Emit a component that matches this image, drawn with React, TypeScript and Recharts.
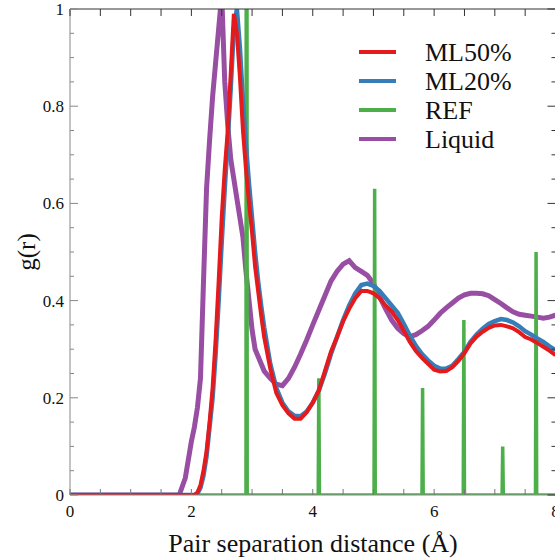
import { LineChart, Line, XAxis, YAxis, Legend } from 'recharts';

const FONT = '"Liberation Serif", "Times New Roman", serif';

// radial grid (Å) shared by the three g(r) curves
const R_GRID = [
  0, 1.5, 1.8, 1.9, 2.0, 2.05, 2.1, 2.15, 2.2, 2.25, 2.3, 2.35, 2.4, 2.45, 2.5, 2.55, 2.6, 2.65, 2.7, 2.75,
  2.8, 2.85, 2.9, 2.95, 3.0, 3.05, 3.1, 3.15, 3.2, 3.3, 3.4, 3.5, 3.6, 3.7, 3.8, 3.9, 4.0, 4.1, 4.2, 4.3,
  4.4, 4.5, 4.6, 4.7, 4.8, 4.9, 5.0, 5.1, 5.2, 5.3, 5.4, 5.5, 5.6, 5.7, 5.8, 5.9, 6.0, 6.1, 6.2, 6.3,
  6.4, 6.5, 6.6, 6.7, 6.8, 6.9, 7.0, 7.1, 7.2, 7.3, 7.4, 7.5, 7.6, 7.7, 7.8, 7.9, 8.0,
];

const G_ML50 = [
  0, 0, 0, 0, 0, 0, 0.005, 0.02, 0.05, 0.09, 0.15, 0.22, 0.32, 0.44, 0.57, 0.67, 0.75, 0.87, 0.99, 0.95,
  0.86, 0.75, 0.67, 0.6, 0.54, 0.47, 0.42, 0.37, 0.325, 0.26, 0.21, 0.185, 0.168, 0.157, 0.157, 0.17, 0.19, 0.215, 0.255, 0.295,
  0.325, 0.357, 0.383, 0.405, 0.42, 0.42, 0.415, 0.405, 0.39, 0.378, 0.36, 0.338, 0.315, 0.296, 0.282, 0.27, 0.258, 0.254, 0.255, 0.263,
  0.276, 0.292, 0.312, 0.326, 0.336, 0.344, 0.349, 0.35, 0.347, 0.343, 0.335, 0.325, 0.32, 0.313, 0.305, 0.297, 0.288,
];

const G_ML20 = [
  0, 0, 0, 0, 0, 0, 0.003, 0.015, 0.04, 0.08, 0.14, 0.2, 0.29, 0.4, 0.52, 0.63, 0.73, 0.84, 0.96, 1.0,
  0.92, 0.81, 0.72, 0.64, 0.57, 0.5, 0.44, 0.39, 0.345, 0.27, 0.22, 0.19, 0.172, 0.163, 0.162, 0.172, 0.19, 0.215, 0.25, 0.29,
  0.325, 0.36, 0.39, 0.415, 0.432, 0.435, 0.43, 0.42, 0.405, 0.39, 0.375, 0.352, 0.328, 0.307, 0.29, 0.277, 0.266, 0.26, 0.26, 0.266,
  0.28, 0.295, 0.315, 0.33, 0.342, 0.352, 0.358, 0.362, 0.36, 0.355, 0.347, 0.337, 0.33, 0.322, 0.315, 0.306, 0.298,
];

const G_LIQUID = [
  0, 0, 0, 0.035, 0.11, 0.14, 0.18, 0.24, 0.44, 0.63, 0.73, 0.82, 0.89, 0.96, 1.03, 0.85, 0.76, 0.69, 0.65, 0.61,
  0.57, 0.53, 0.46, 0.4, 0.34, 0.3, 0.285, 0.27, 0.255, 0.24, 0.228, 0.225, 0.24, 0.263, 0.29, 0.319, 0.35, 0.38, 0.41, 0.44,
  0.46, 0.475, 0.482, 0.468, 0.46, 0.452, 0.435, 0.408, 0.383, 0.36, 0.343, 0.332, 0.326, 0.33, 0.338, 0.347, 0.36, 0.374, 0.385, 0.395,
  0.405, 0.412, 0.415, 0.415, 0.414, 0.41, 0.402, 0.394, 0.385, 0.377, 0.372, 0.37, 0.368, 0.366, 0.364, 0.366, 0.37,
];

// reference crystal: sharp peaks
const REF_PEAK_R = [2.91, 4.1, 5.02, 5.81, 6.49, 7.13, 7.68];
const REF_PEAK_G = [3.0, 0.24, 0.63, 0.22, 0.36, 0.1, 0.5];

const X_TICKS = [0, 0.5, 1, 1.5, 2, 2.5, 3, 3.5, 4, 4.5, 5, 5.5, 6, 6.5, 7, 7.5, 8];
const Y_TICKS = [
  0, 0.05, 0.1, 0.15, 0.2, 0.25, 0.3, 0.35, 0.4, 0.45, 0.5, 0.55, 0.6, 0.65, 0.7, 0.75, 0.8, 0.85, 0.9, 0.95, 1,
];

const SERIES = [
  { name: 'ML50%', color: '#e41a1c' },
  { name: 'ML20%', color: '#377eb8' },
  { name: 'REF', color: '#4daf4a' },
  { name: 'Liquid', color: '#984ea3' },
];

const toPoints = (ys: number[]) => R_GRID.map((r, i) => ({ r, g: ys[i] }));

const ml50Data = toPoints(G_ML50);
const ml20Data = toPoints(G_ML20);
const liquidData = toPoints(G_LIQUID);

// each peak drawn as a narrow spike rising from the zero baseline
const refData = (() => {
  const pts: { r: number; g: number }[] = [{ r: 0, g: 0 }];
  REF_PEAK_R.forEach((r, i) => {
    pts.push({ r: r - 0.01, g: 0 }, { r, g: REF_PEAK_G[i] }, { r: r + 0.01, g: 0 });
  });
  pts.push({ r: 8, g: 0 });
  return pts;
})();

const isMajorX = (v: number) => Math.abs(v / 2 - Math.round(v / 2)) < 1e-6;
const isMajorY = (v: number) => Math.abs(v * 5 - Math.round(v * 5)) < 1e-6;
const fmtY = (v: number) => (v === 0 ? '0' : v === 1 ? '1' : v.toFixed(1));

const BottomTick = ({ x, y, payload }: any) => (
  <g>
    <line x1={x} y1={y} x2={x} y2={y - 6} stroke="#777" />
    {isMajorX(payload.value) && (
      <text x={x} y={y + 22} textAnchor="middle" fontSize={17} fontFamily={FONT} fill="#111">
        {payload.value}
      </text>
    )}
  </g>
);

const TopTick = ({ x, y }: any) => <line x1={x} y1={y} x2={x} y2={y + 7} stroke="#333" />;

const LeftTick = ({ x, y, payload }: any) => {
  const major = isMajorY(payload.value);
  return (
    <g>
      <line x1={x} y1={y} x2={x + (major ? 8 : 4)} y2={y} stroke="#888" />
      {major && (
        <text x={x - 6} y={y + 6} textAnchor="end" fontSize={17} fontFamily={FONT} fill="#111">
          {fmtY(payload.value)}
        </text>
      )}
    </g>
  );
};

const RightTick = ({ x, y, payload }: any) => (
  <line x1={x} y1={y} x2={x - (isMajorY(payload.value) ? 8 : 4)} y2={y} stroke="#333" />
);

const LegendBox = () => (
  <svg width={200} height={130}>
    {SERIES.map((s, i) => (
      <g key={s.name}>
        <line x1={4} x2={41} y1={17 + i * 29} y2={17 + i * 29} stroke={s.color} strokeWidth={4} />
        <text x={70} y={26 + i * 29} fontSize={26} fontFamily={FONT} fill="#111">
          {s.name}
        </text>
      </g>
    ))}
  </svg>
);

export default function App() {
  return (
    <div style={{ position: 'absolute', left: 0, top: 0, width: 555, height: 560, overflow: 'hidden', background: '#fff' }}>
      <LineChart width={560} height={560} margin={{ top: 8, right: 3.5, bottom: 64, left: 69 }}>
        <XAxis
          type="number"
          dataKey="r"
          domain={[0, 8]}
          ticks={X_TICKS}
          interval={0}
          allowDataOverflow
          height={1}
          tickSize={0}
          tickMargin={0}
          axisLine={{ stroke: '#888' }}
          tickLine={false}
          tick={<BottomTick />}
        />
        <XAxis
          xAxisId="top"
          orientation="top"
          type="number"
          dataKey="r"
          domain={[0, 8]}
          ticks={X_TICKS}
          interval={0}
          allowDataOverflow
          height={1}
          tickSize={0}
          tickMargin={0}
          axisLine={{ stroke: '#333' }}
          tickLine={false}
          tick={<TopTick />}
        />
        <YAxis
          type="number"
          domain={[0, 1]}
          ticks={Y_TICKS}
          interval={0}
          allowDataOverflow
          width={1}
          tickSize={0}
          tickMargin={0}
          axisLine={{ stroke: '#888' }}
          tickLine={false}
          tick={<LeftTick />}
        />
        <YAxis
          yAxisId="right"
          orientation="right"
          type="number"
          domain={[0, 1]}
          ticks={Y_TICKS}
          interval={0}
          allowDataOverflow
          width={1}
          tickSize={0}
          tickMargin={0}
          axisLine={{ stroke: '#333' }}
          tickLine={false}
          tick={<RightTick />}
        />
        <Line data={liquidData} dataKey="g" name="Liquid" type="linear" stroke="#984ea3" strokeWidth={5} dot={false} isAnimationActive={false} />
        <Line data={refData} dataKey="g" name="REF" type="linear" stroke="#4daf4a" strokeWidth={3.5} dot={false} isAnimationActive={false} />
        <Line data={ml20Data} dataKey="g" name="ML20%" type="linear" stroke="#377eb8" strokeWidth={4.5} dot={false} isAnimationActive={false} />
        <Line data={ml50Data} dataKey="g" name="ML50%" type="linear" stroke="#e41a1c" strokeWidth={4} dot={false} isAnimationActive={false} />
        <Legend
          layout="vertical"
          align="center"
          verticalAlign="middle"
          content={() => <LegendBox />}
          wrapperStyle={{ left: 355, top: 35, width: 200, height: 130 }}
        />
        <text x={313} y={552} textAnchor="middle" fontSize={26} fontFamily={FONT} fill="#111">
          Pair separation distance (Å)
        </text>
        <text
          x={26}
          y={252}
          textAnchor="middle"
          dominantBaseline="central"
          fontSize={25}
          fontFamily={FONT}
          fill="#111"
          transform="rotate(-90 26 252)"
        >
          g(r)
        </text>
      </LineChart>
    </div>
  );
}
